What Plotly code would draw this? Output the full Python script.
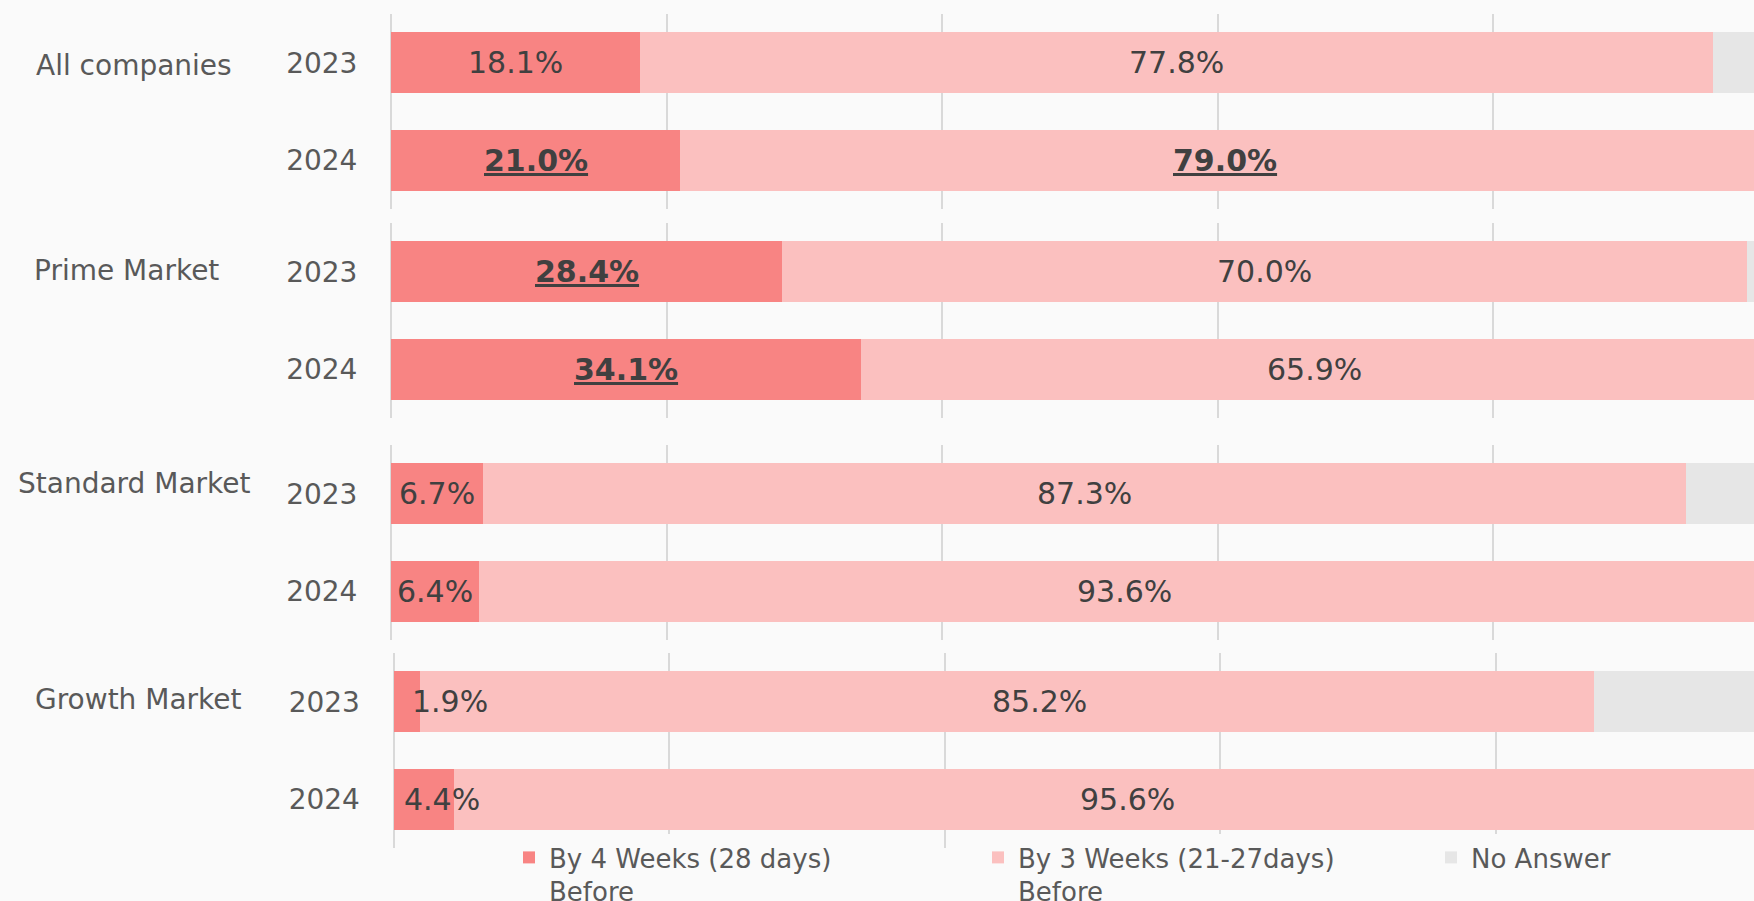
import plotly.graph_objects as go

# ---------------- data ----------------
groups = ["All companies", "Prime Market", "Standard Market", "Growth Market"]
years = ["2023", "2024"]
by_4_weeks = [[18.1, 21.0], [28.4, 34.1], [6.7, 6.4], [1.9, 4.4]]
by_3_weeks = [[77.8, 79.0], [70.0, 65.9], [87.3, 93.6], [85.2, 95.6]]
no_answer = [[4.1, 0.0], [1.6, 0.0], [6.0, 0.0], [12.9, 0.0]]
emphasis_4 = [[False, True], [True, True], [False, False], [False, False]]
emphasis_3 = [[False, True], [False, False], [False, False], [False, False]]
series_names = ["By 4 Weeks (28 days)<br>Before",
                "By 3 Weeks (21-27days)<br>Before",
                "No Answer"]
x_ticks = [0, 20, 40, 60, 80, 100]

# ---------------- style / layout ----------------
W, H = 1754, 901
PLOT_LEFT = 391
PLOT_W = W - PLOT_LEFT
PX_PER_PCT = 13.78
BAND_TOPS = [14, 223, 445, 653]
BAND_H = 195
X_OFFSETS = [0, 0, 0, 2.5]
COLORS = ["#F88483", "#FBC0BF", "#E6E6E6"]
BG = "#FAFAFA"
GRID = "#D9D9D9"
FONT = "DejaVu Sans"
LABEL_GRAY = "#595959"
VALUE_GRAY = "#404040"
GROUP_LABEL_POS = [(134, 66), (126, 270), (134, 483), (138, 699)]
# small horizontal nudges of value labels (group, year) -> (series1, series2)
LABEL_SHIFT = {(3, 0): (43, 33), (3, 1): (18, 15)}
LEGEND_TEXT_X = [554, 1023, 1476]
LEGEND_TOP = 834


def px_x(px):
    return (px - PLOT_LEFT) / PLOT_W


def px_y(py):
    return 1 - py / H


fig = go.Figure()
legend_ids = ["legend", "legend2", "legend3"]
series_values = [by_4_weeks, by_3_weeks, no_answer]

for g in range(len(groups)):
    ax = "" if g == 0 else str(g + 1)
    for s in range(3):
        fig.add_trace(go.Bar(
            y=years,
            x=series_values[s][g],
            orientation="h",
            name=series_names[s],
            marker=dict(color=COLORS[s], line=dict(width=0)),
            xaxis="x" + ax,
            yaxis="y" + ax,
            showlegend=(g == 0),
            legendgroup=str(s),
            legend=legend_ids[s],
            hoverinfo="skip",
        ))

    xoff = X_OFFSETS[g]
    x_dom = [px_x(PLOT_LEFT + xoff), 1]
    y_dom = [px_y(BAND_TOPS[g] + BAND_H), px_y(BAND_TOPS[g])]
    x_max = (W - PLOT_LEFT - xoff) / PX_PER_PCT
    fig.update_layout(**{
        "xaxis" + ax: dict(
            domain=x_dom, range=[0, x_max], anchor="y" + ax,
            tickvals=x_ticks, showticklabels=False, ticks="",
            showgrid=True, gridcolor=GRID, gridwidth=2,
            zeroline=True, zerolinecolor=GRID, zerolinewidth=2,
            showline=False, fixedrange=True,
        ),
        "yaxis" + ax: dict(
            domain=y_dom, anchor="x" + ax, type="category",
            categoryorder="array", categoryarray=years,
            range=[len(years) - 0.5, -0.5], autorange=False,
            showgrid=False, zeroline=False,
            showline=False, ticks="outside", ticklen=27,
            tickcolor="rgba(0,0,0,0)",
            tickfont=dict(size=28, color=LABEL_GRAY, family=FONT),
            fixedrange=True,
        ),
    })

    # value labels (y given as category index)
    for yi, yr in enumerate(years):
        a = by_4_weeks[g][yi]
        b = by_3_weeks[g][yi]
        shifts = LABEL_SHIFT.get((g, yi), (0, 0))
        for val, start, emph, sh in ((a, 0, emphasis_4[g][yi], shifts[0]),
                                     (b, a, emphasis_3[g][yi], shifts[1])):
            txt = f"{val:.1f}%"
            if emph:
                txt = f"<b><u>{txt}</u></b>"
            fig.add_annotation(
                x=start + val / 2, y=yi, xref="x" + ax, yref="y" + ax,
                text=txt, showarrow=False, xanchor="center", yanchor="middle",
                xshift=sh,
                font=dict(size=30, color=VALUE_GRAY, family=FONT),
            )

    # group labels
    cx, cy = GROUP_LABEL_POS[g]
    fig.add_annotation(
        x=px_x(cx), y=px_y(cy), xref="paper", yref="paper",
        text=groups[g], showarrow=False, xanchor="center", yanchor="middle",
        font=dict(size=28, color=LABEL_GRAY, family=FONT),
    )

legend_common = dict(
    orientation="h", yanchor="top", xanchor="left", valign="top",
    bgcolor=BG, borderwidth=0,
    font=dict(size=26, color=LABEL_GRAY, family=FONT),
)
fig.update_layout(
    legend=dict(x=px_x(LEGEND_TEXT_X[0] - 45), y=px_y(LEGEND_TOP), **legend_common),
    legend2=dict(x=px_x(LEGEND_TEXT_X[1] - 45), y=px_y(LEGEND_TOP), **legend_common),
    legend3=dict(x=px_x(LEGEND_TEXT_X[2] - 45), y=px_y(LEGEND_TOP), **legend_common),
)

fig.update_layout(
    width=W, height=H,
    barmode="stack", bargap=0.374,
    paper_bgcolor=BG, plot_bgcolor=BG,
    margin=dict(l=PLOT_LEFT, r=0, t=0, b=0, pad=0, autoexpand=False),
    font=dict(family=FONT, color=LABEL_GRAY),
    showlegend=True,
)

fig.write_html(
    "out.html",
    config={"displayModeBar": False},
    post_script="document.body.style.margin='0';"
                "document.body.style.background='#FAFAFA';",
)
